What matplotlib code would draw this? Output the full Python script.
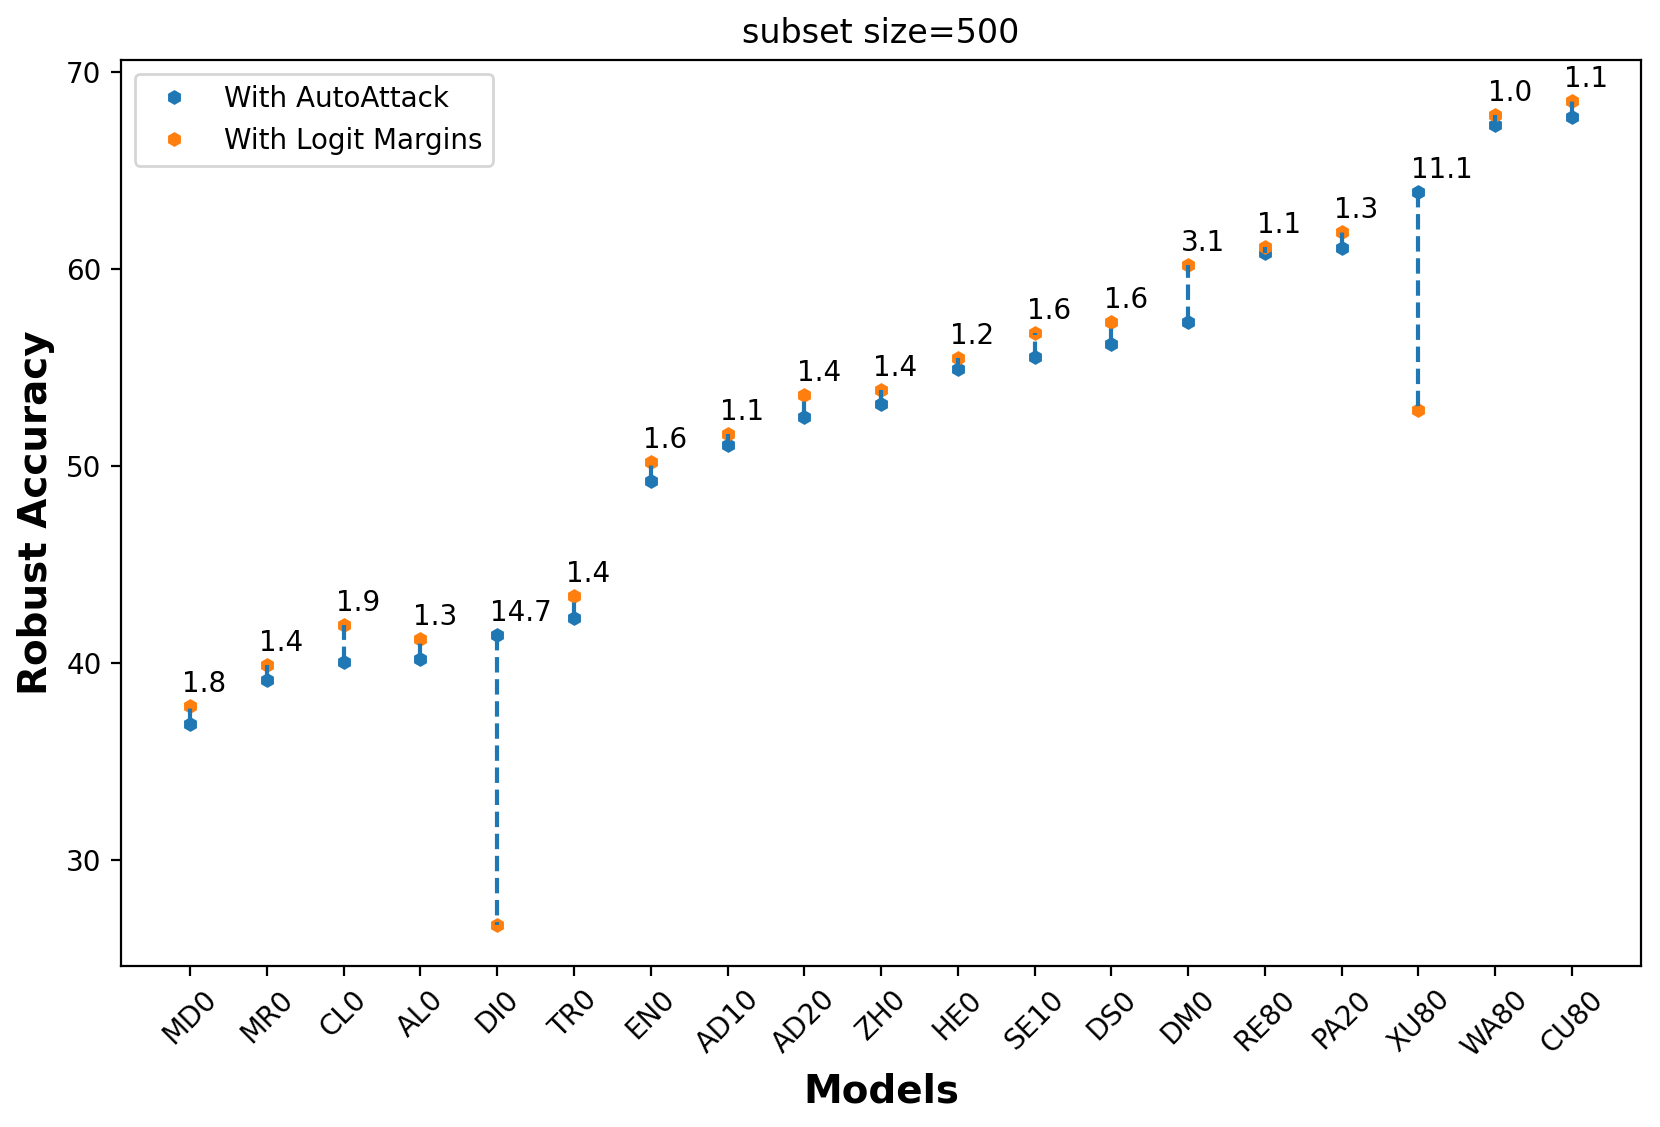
import matplotlib
matplotlib.use("Agg")
import matplotlib.pyplot as plt
import numpy as np

models = ["MD0", "MR0", "CL0", "AL0", "DI0", "TR0", "EN0", "AD10", "AD20", "ZH0",
          "HE0", "SE10", "DS0", "DM0", "RE80", "PA20", "XU80", "WA80", "CU80"]
autoattack = [36.9, 39.1, 40.05, 40.2, 41.4, 42.25, 49.2, 51.05, 52.45, 53.1,
              54.9, 55.5, 56.15, 57.3, 60.8, 61.05, 63.9, 67.3, 67.7]
logit_margins = [37.8, 39.9, 41.9, 41.2, 26.7, 43.4, 50.2, 51.6, 53.6, 53.85,
                 55.45, 56.75, 57.3, 60.2, 61.1, 61.85, 52.8, 67.8, 68.5]
gap_labels = ["1.8", "1.4", "1.9", "1.3", "14.7", "1.4", "1.6", "1.1", "1.4", "1.4",
              "1.2", "1.6", "1.6", "3.1", "1.1", "1.3", "11.1", "1.0", "1.1"]

fig, ax = plt.subplots(figsize=(8.3, 5.635), dpi=200)
fig.subplots_adjust(left=0.0729, right=0.9886, top=0.9468, bottom=0.1431)

x = np.arange(len(models))
ax.plot(x, autoattack, linestyle="none", marker="h", ms=4.2, color="C0", label="With AutoAttack")
ax.plot(x, logit_margins, linestyle="none", marker="h", ms=4.2, color="C1", label="With Logit Margins")
ax.vlines(x, autoattack, logit_margins, colors="C0", linestyles="--", linewidth=1.5, zorder=3)

for xi, a, b, lab in zip(x, autoattack, logit_margins, gap_labels):
    ax.text(xi - 0.1, max(a, b) + 0.4, lab, ha="left", va="bottom", fontsize=10)

ax.set_xticks(x)
ax.set_xticklabels(models, rotation=45)
ax.set_xlabel("Models", fontsize=14, fontweight="bold")
ax.set_ylabel("Robust Accuracy", fontsize=14, fontweight="bold")
ax.set_title("subset size=500", fontsize=12)
ax.legend(loc="upper left")

fig.savefig("out.png", dpi=200)
